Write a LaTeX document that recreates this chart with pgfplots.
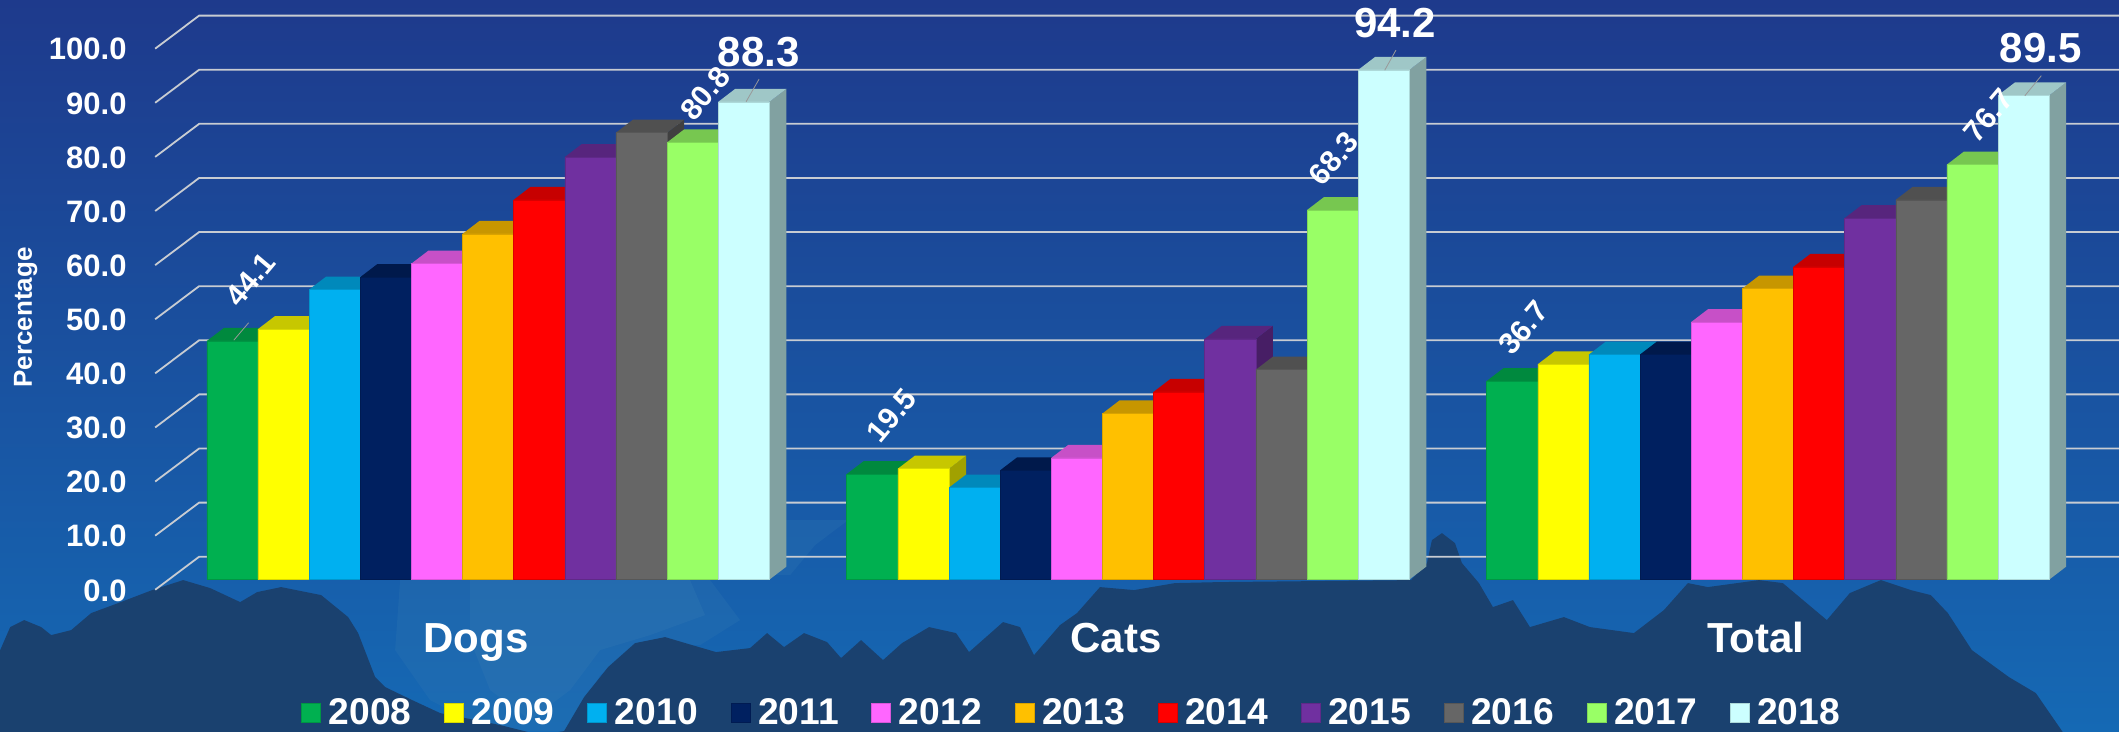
\documentclass[border=0pt]{standalone}
\usepackage{fontspec}
\setmainfont{Liberation Sans}
\usepackage{pgfplots}
\usepackage{pgfplotstable}
\pgfplotsset{compat=1.18}

\definecolor{c08}{HTML}{00B050}
\definecolor{c09}{HTML}{FFFF00}
\definecolor{c10}{HTML}{00B0F0}
\definecolor{c11}{HTML}{002060}
\definecolor{c12}{HTML}{FF66FF}
\definecolor{c13}{HTML}{FFC000}
\definecolor{c14}{HTML}{FF0000}
\definecolor{c15}{HTML}{7030A0}
\definecolor{c16}{HTML}{666666}
\definecolor{c17}{HTML}{99FF66}
\definecolor{c18}{HTML}{CCFFFF}
\definecolor{bgtop}{HTML}{1E3A8C}
\definecolor{bgbot}{HTML}{1569B4}
\definecolor{ridge}{HTML}{1A416F}
\definecolor{haze}{HTML}{2F76B2}
\definecolor{gridc}{HTML}{C8CCD2}

% values per year: group (0 Dogs, 1 Cats, 2 Total), percentage
\pgfplotstableread{g v
0 44.1
1 19.5
2 36.7
}\tA
\pgfplotstableread{g v
0 46.3
1 20.5
2 39.8
}\tB
\pgfplotstableread{g v
0 53.6
1 17.0
2 41.6
}\tC
\pgfplotstableread{g v
0 55.9
1 20.2
2 41.6
}\tD
\pgfplotstableread{g v
0 58.4
1 22.5
2 47.6
}\tE
\pgfplotstableread{g v
0 63.9
1 30.7
2 53.8
}\tF
\pgfplotstableread{g v
0 70.2
1 34.7
2 57.8
}\tG
\pgfplotstableread{g v
0 78.1
1 44.5
2 66.8
}\tH
\pgfplotstableread{g v
0 82.6
1 38.8
2 70.2
}\tI
\pgfplotstableread{g v
0 80.8
1 68.3
2 76.7
}\tJ
\pgfplotstableread{g v
0 88.3
1 94.2
2 89.5
}\tK

% 1 image px = 0.5pt; x unit = 640 px between groups, y unit = 5.412 px
\def\bw{0.07992}
\def\dx{0.02656}
\def\dy{2.4}

\pgfplotsset{
  swatch/.style={legend image code/.code={\fill[##1] (0pt,-4.7pt) rectangle (9.5pt,4.7pt);}},
  /pgfplots/table/px table/.style={x expr=(\thisrow{px}-488)/640, y expr=(579.5-\thisrow{py})/5.412, row sep=\\},
}

% side and top of each bar, then the front faces through ybar
\newcommand\yearbars[4]{%
  \pgfplotsinvokeforeach{0,1,2}{%
    \pgfplotstablegetelem{##1}{v}\of{#3}%
    \let\val\pgfplotsretval
    \pgfmathsetmacro\xl{##1+(#1-5.5)*\bw}%
    \pgfmathsetmacro\xr{\xl+\bw}%
    \pgfmathsetmacro\xa{\xl+\dx}%
    \pgfmathsetmacro\xb{\xr+\dx}%
    \pgfmathsetmacro\yt{\val+\dy}%
    \edef\tmp{%
      \noexpand\addplot[fill=#2!63!black,draw=none,forget plot] coordinates {(\xr,0) (\xb,\dy) (\xb,\yt) (\xr,\val)};
      \noexpand\addplot[fill=#2!78!black,draw=none,forget plot] coordinates {(\xl,\val) (\xr,\val) (\xb,\yt) (\xa,\yt)};
    }\tmp
  }
  \pgfmathsetmacro\sh{(#1-5)*25.575}%
  \edef\tmp{\noexpand\addplot[ybar,bar width=25.575pt,bar shift=\sh pt,fill=#2,draw=#2!85!black,line width=0.25pt,swatch] table[x=g,y=v] {\noexpand#3};}\tmp
  \addlegendentry{#4}
}

\begin{document}
\begin{tikzpicture}
\begin{axis}[
  scale only axis,width=1059.5pt,height=365.5pt,
  xmin=-0.7625,xmax=2.5484,ymin=-27.99,ymax=107.08,
  axis on top,
  axis background/.style={shade,top color=bgtop,bottom color=bgbot},
  axis line style={draw=none},
  major tick length=0pt,
  xtick={0,1,2},xticklabels={Dogs,Cats,Total},
  xticklabel style={font=\fontsize{21}{24}\bfseries\selectfont,text=white,anchor=base,xshift=-6pt,yshift=39.1pt},
  ytick={0,10,...,100},
  yticklabel style={font=\fontsize{15.5}{18}\bfseries\selectfont,text=white,anchor=east,xshift=66.7pt,yshift=-5.4pt,
    /pgf/number format/.cd,fixed,fixed zerofill,precision=1,assume math mode=true},
  ylabel={Percentage},
  every axis y label/.style={at={(axis description cs:0.0120,0.5657)},rotate=90,anchor=center},
  ylabel style={font=\fontsize{13}{15}\bfseries\selectfont,text=white},
  legend columns=11,
  legend style={at={(axis description cs:0.1420,0.0245)},anchor=west,draw=none,fill=none,inner sep=0pt,
    font=\fontsize{18.6}{20}\bfseries\selectfont,text=white,
    /tikz/every odd column/.append style={column sep=2pt},
    /tikz/every even column/.append style={column sep=14.4pt}},
]
% haze and ridge of the backdrop, in image px
\addplot[fill=haze,draw=none,opacity=0.3,forget plot] table[px table] {px py\\
400 580\\ 710 580\\ 740 620\\ 700 645\\ 640 645\\ 600 675\\ 570 731\\ 490 731\\ 430 700\\ 395 650\\};
\addplot[fill=haze,draw=none,opacity=0.4,forget plot] table[px table] {px py\\
470 580\\ 690 580\\ 705 615\\ 650 635\\ 600 650\\ 570 690\\ 530 720\\ 490 690\\ 470 640\\};
\addplot[fill=haze,draw=none,opacity=0.3,forget plot] table[px table] {px py\\
770 520\\ 848 520\\ 815 545\\ 790 575\\ 770 575\\};
\addplot[fill=ridge,draw=none,forget plot] table[px table] {px py\\
-5 735\\ -5 660\\ 0 650\\ 10 627\\ 24 620\\ 41 627\\ 51 635\\ 71 630\\ 91 613\\ 118 603\\ 152 590\\ 183 580\\
210 588\\ 240 602\\ 257 592\\ 281 587\\ 321 595\\ 348 617\\ 358 633\\ 375 677\\ 385 687\\ 412 700\\ 440 713\\
500 725\\ 540 735\\ 564 731\\ 584 697\\ 608 667\\ 635 643\\ 665 637\\ 692 645\\ 716 652\\ 750 648\\ 767 633\\
784 647\\ 804 633\\ 827 642\\ 841 658\\ 861 640\\ 883 660\\ 902 643\\ 929 627\\ 956 633\\ 969 652\\ 1003 622\\
1020 627\\ 1034 655\\ 1060 625\\ 1077 613\\ 1100 587\\ 1134 590\\ 1175 583\\ 1219 582\\ 1411 580\\ 1427 563\\
1432 540\\ 1442 533\\ 1455 543\\ 1462 563\\ 1479 583\\ 1493 607\\ 1513 600\\ 1530 627\\ 1564 617\\ 1590 627\\
1634 633\\ 1664 610\\ 1688 583\\ 1708 587\\ 1759 580\\ 1783 583\\ 1827 620\\ 1850 593\\ 1881 580\\ 1911 590\\
1931 595\\ 1948 613\\ 1972 650\\ 2009 677\\ 2036 693\\ 2065 735\\};
% wall lines, running back from the tick labels
\pgfplotsinvokeforeach{0,10,20,30,40,50,60,70,80,90,100}{
  \addplot[gridc,line width=0.9pt,forget plot] table[x=x,y expr=\thisrow{d}+#1,row sep=\\] {x d\\ -0.5203 -1.88\\ -0.4516 4.23\\ 2.5484 4.23\\};
}
\yearbars{0}{c08}{\tA}{2008}
\yearbars{1}{c09}{\tB}{2009}
\yearbars{2}{c10}{\tC}{2010}
\yearbars{3}{c11}{\tD}{2011}
\yearbars{4}{c12}{\tE}{2012}
\yearbars{5}{c13}{\tF}{2013}
\yearbars{6}{c14}{\tG}{2014}
\yearbars{7}{c15}{\tH}{2015}
\yearbars{8}{c16}{\tI}{2016}
\yearbars{9}{c17}{\tJ}{2017}
\yearbars{10}{c18}{\tK}{2018}
\end{axis}
% data labels and their leaders, in image px
\tikzset{px/.style={shift={(0,365.5pt)},x=0.5pt,y=-0.5pt},
  sml/.style={text=white,rotate=50,font=\fontsize{15}{17}\bfseries\selectfont},
  big/.style={text=white,font=\fontsize{21}{24}\bfseries\selectfont}}
\begin{scope}[px]
\draw[gray!80,line width=0.4pt] (233.7,340) -- (248.5,322.6) (746,101.6) -- (759,79) (1384.8,70) -- (1396,50) (2025,95.6) -- (2041.5,75.5);
\node[sml] at (250,279) {44.1};
\node[sml] at (705,93) {80.8};
\node[big] at (758.7,52.2) {88.3};
\node[sml] at (891.5,415) {19.5};
\node[sml] at (1333.5,158.5) {68.3};
\node[big] at (1395,22.4) {94.2};
\node[sml] at (1523.4,327.7) {36.7};
\node[sml] at (1988.4,115.6) {76.7};
\node[big] at (2041,47.5) {89.5};
\end{scope}
\end{tikzpicture}
\end{document}
